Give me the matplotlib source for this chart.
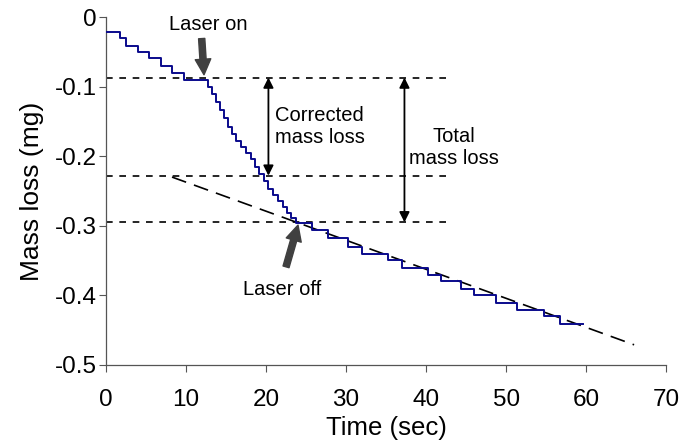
import numpy as np
import matplotlib
matplotlib.use('Agg')
import matplotlib.pyplot as plt

plt.rcParams['font.family'] = ['Liberation Sans', 'DejaVu Sans']

# Staircase mass readings (time in sec, mass loss in mg)
time_s = [0.0, 1.8, 2.5, 4.0, 5.4, 6.9, 8.2, 9.8, 12.3,
          12.8, 13.3, 13.8, 14.3, 14.8, 15.3, 15.8, 16.3, 16.9, 17.5,
          18.1, 18.6, 19.1, 19.7, 20.3, 20.9, 21.5, 22.1, 22.6, 23.1,
          23.8, 25.7, 27.8, 30.3, 32.0, 35.3, 37.0, 40.3, 41.9, 44.4,
          46.0, 48.8, 51.4, 54.7, 56.8, 59.6]
mass_mg = [-0.021, -0.030, -0.041, -0.050, -0.059, -0.071, -0.080, -0.090, -0.090,
           -0.100, -0.110, -0.122, -0.133, -0.145, -0.158, -0.168, -0.178, -0.187, -0.195,
           -0.204, -0.215, -0.226, -0.236, -0.247, -0.256, -0.264, -0.273, -0.282, -0.289,
           -0.296, -0.306, -0.318, -0.330, -0.340, -0.349, -0.361, -0.371, -0.379, -0.391,
           -0.399, -0.411, -0.421, -0.430, -0.441, -0.441]

# Reference levels
level_on = -0.087
level_corr = -0.228
level_off = -0.295
level_x = [0, 42.5]

# Extrapolated baseline drift
drift_t = [8.25, 66.0]
drift_m = [-0.230, -0.471]

fig = plt.figure(figsize=(6.86, 4.44), dpi=100)
ax = fig.add_axes([0.1545, 0.178, 0.8165, 0.7837])

ax.step(time_s, mass_mg, where='post', color='#0a0a8c', lw=1.4, zorder=3)

for lev in [level_on, level_corr, level_off]:
    ax.plot(level_x, [lev, lev], color='black', lw=1.2, dashes=(4, 4))

ax.plot(drift_t, drift_m, color='black', lw=1.2, dashes=(9, 5))

# double arrows
ax.annotate('', xy=(20.3, level_corr), xytext=(20.3, level_on),
            arrowprops=dict(arrowstyle='<|-|>', color='black', lw=1.3,
                            mutation_scale=15, shrinkA=0, shrinkB=0))
ax.annotate('', xy=(37.3, level_off), xytext=(37.3, level_on),
            arrowprops=dict(arrowstyle='<|-|>', color='black', lw=1.3,
                            mutation_scale=15, shrinkA=0, shrinkB=0))

ax.text(21.1, -0.157, 'Corrected\nmass loss', fontsize=14.5, ha='left', va='center')
ax.text(43.5, -0.188, 'Total\nmass loss', fontsize=14.5, ha='center', va='center')

# laser arrows
arr = dict(arrowstyle='simple,head_length=0.7,head_width=0.7,tail_width=0.28',
           color='#404040', mutation_scale=16, shrinkA=0, shrinkB=0)
ax.annotate('', xy=(12.25, -0.083), xytext=(11.96, -0.031), arrowprops=arr)
ax.annotate('', xy=(24.0, -0.299), xytext=(22.5, -0.359), arrowprops=arr)
ax.text(12.75, -0.011, 'Laser on', fontsize=14.5, ha='center', va='center')
ax.text(22.05, -0.392, 'Laser off', fontsize=14.5, ha='center', va='center')

ax.set_xlim(0, 70)
ax.set_ylim(-0.5, 0)
ax.set_xticks(np.arange(0, 71, 10))
ax.set_yticks([0, -0.1, -0.2, -0.3, -0.4, -0.5])
ax.set_yticklabels(['0', '-0.1', '-0.2', '-0.3', '-0.4', '-0.5'])
ax.tick_params(labelsize=17.5, length=5, width=0.8, color='#555555')
ax.tick_params(axis='x', pad=12)
ax.tick_params(axis='y', pad=1.5)
ax.spines['top'].set_visible(False)
ax.spines['right'].set_visible(False)
for s in ['left', 'bottom']:
    ax.spines[s].set_color('#555555')
    ax.spines[s].set_linewidth(0.9)

ax.set_xlabel('Time (sec)', fontsize=18.5, labelpad=4)
ax.set_ylabel('Mass loss (mg)', fontsize=19, labelpad=8)

fig.savefig('out.png', dpi=100)
